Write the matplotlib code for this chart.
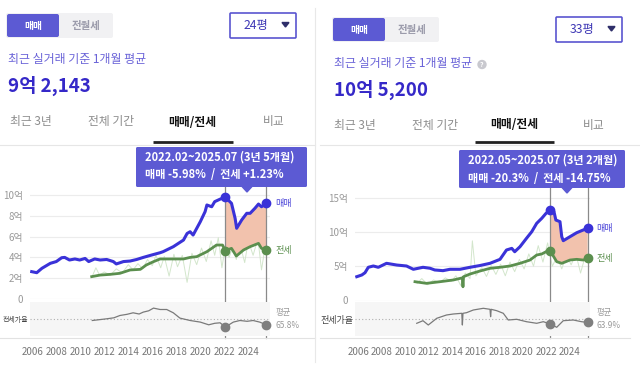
import matplotlib
matplotlib.use("Agg")
import matplotlib.pyplot as plt
from matplotlib.patches import FancyBboxPatch, Polygon, Circle
from matplotlib.transforms import blended_transform_factory
import numpy as np

plt.rcParams['font.family'] = ['Noto Sans CJK KR', 'DejaVu Sans']

W, H = 640, 365
fig = plt.figure(figsize=(6.4, 3.65), dpi=100)
fig.patch.set_facecolor('white')

# ---------------- data ----------------
# left panel (24평)
L_sale_x = [2005.95, 2006.37, 2006.8, 2007.5, 2008.0, 2008.45, 2008.7, 2009.1, 2009.55, 2009.95, 2010.4, 2010.7,
            2011.2, 2011.65, 2012.2, 2012.75, 2013.0, 2013.6, 2014.15, 2014.7, 2015.25, 2015.95, 2016.65, 2016.9,
            2017.75, 2018.6, 2018.9, 2019.15, 2019.4, 2020.0, 2020.4, 2020.55, 2020.95, 2021.2, 2021.65, 2022.083,
            2022.6, 2022.9, 2023.03, 2023.45, 2023.87, 2024.15, 2024.55, 2024.85, 2025.1, 2025.5]
L_sale_y = [2.63, 2.53, 2.95, 3.43, 3.6, 3.97, 4.0, 3.75, 3.85, 3.75, 3.9, 3.6,
            3.85, 3.75, 3.8, 3.6, 3.37, 3.6, 3.65, 3.8, 4.0, 4.23, 4.45, 4.55,
            5.03, 5.67, 6.3, 6.47, 6.15, 7.43, 8.4, 9.04, 8.87, 9.36, 9.6, 9.80,
            9.2, 7.76, 6.8, 7.6, 8.24, 8.24, 8.72, 9.13, 8.87, 9.21]
L_jeon_x = [2010.95, 2011.65, 2012.5, 2013.3, 2014.15, 2015.0, 2015.5, 2016.1, 2016.65, 2017.2, 2018.6, 2019.15,
            2019.7, 2020.55, 2021.35, 2021.85, 2022.083, 2022.6, 2023.0, 2023.6, 2024.15, 2024.85, 2025.1, 2025.5]
L_jeon_y = [2.15, 2.3, 2.37, 2.47, 2.79, 2.85, 3.27, 3.59, 3.85, 3.85, 3.85, 4.0,
            4.07, 4.55, 5.19, 5.19, 4.65, 4.87, 4.13, 4.71, 5.03, 5.35, 4.87, 4.71]
L_raw_x = [2011.0, 2011.3, 2011.6, 2012.0, 2012.5, 2013.0, 2013.5, 2014.0, 2014.4, 2014.8, 2015.2, 2015.6, 2016.0,
           2016.3, 2016.7, 2017.0, 2017.4, 2017.8, 2018.1, 2018.5, 2018.9, 2019.3, 2019.7, 2020.1, 2020.5, 2020.9,
           2021.2, 2021.5, 2021.8, 2022.1, 2022.4, 2022.7, 2023.0, 2023.3, 2023.7, 2024.0, 2024.4, 2024.8, 2025.1, 2025.4]
L_raw_y = [2.2, 3.0, 2.3, 2.6, 2.3, 2.9, 2.5, 3.3, 2.8, 3.4, 2.9, 3.8, 3.2,
           4.2, 3.0, 4.1, 2.2, 4.3, 3.1, 4.2, 1.6, 4.4, 3.3, 4.9, 3.6, 5.6,
           4.2, 5.9, 3.0, 5.2, 4.0, 5.0, 3.8, 5.3, 3.5, 5.6, 4.2, 5.8, 2.8, 5.0]
L_ratio_x = [2011.0, 2011.5, 2012.2, 2012.8, 2013.3, 2013.9, 2014.4, 2014.9, 2015.25, 2015.7, 2016.1, 2016.65, 2017.2,
             2017.75, 2018.3, 2019.15, 2020.0, 2020.7, 2021.2, 2021.65, 2022.083, 2022.75, 2023.3, 2023.9, 2024.4,
             2024.95, 2025.5]
L_ratio_y = [64.3, 65.0, 66.0, 67.0, 69.3, 70.5, 72.0, 70.8, 72.7, 74.0, 76.7, 75.3, 75.3,
             72.0, 66.7, 64.3, 62.7, 60.0, 61.5, 62.0, 57.7, 62.7, 64.3, 63.5, 64.3,
             62.7, 60.0]
L_mean = 65.8
L_period = (2022.083, 2025.5)

# right panel (33평)
R_sale_x = [2005.87, 2006.3, 2006.57, 2006.85, 2007.28, 2007.7, 2008.4, 2009.27, 2010.1, 2010.68, 2011.5, 2012.1,
            2012.5, 2013.2, 2013.8, 2014.65, 2015.5, 2016.35, 2017.2, 2018.05, 2018.6, 2019.05, 2019.3, 2019.75,
            2020.3, 2020.75, 2021.17, 2021.6, 2021.96, 2022.333, 2022.64, 2022.8, 2023.15, 2023.3, 2023.43, 2024.0,
            2024.57, 2025.13, 2025.5]
R_sale_y = [3.47, 3.72, 4.05, 4.84, 5.03, 4.84, 5.42, 5.17, 5.03, 4.55, 4.84, 4.7,
            4.45, 4.35, 4.55, 4.55, 4.84, 5.1, 5.42, 6.0, 7.36, 7.6, 7.11, 7.84,
            9.06, 10.03, 11.25, 11.98, 12.7, 13.2, 12.94, 11.73, 11.49, 9.3, 8.72, 9.3,
            9.88, 10.28, 10.52]
R_jeon_x = [2010.82, 2011.8, 2012.95, 2014.08, 2014.85, 2014.9, 2014.95, 2015.5, 2016.35, 2017.2, 2018.05, 2018.9,
            2019.75, 2020.6, 2021.17, 2021.6, 2021.96, 2022.333, 2022.87, 2023.3, 2024.0, 2024.57, 2025.13, 2025.5]
R_jeon_y = [2.74, 2.5, 2.74, 2.99, 3.3, 2.0, 3.47, 3.86, 4.3, 4.69, 4.84, 5.03,
            5.42, 5.9, 6.63, 6.78, 7.11, 7.2, 5.66, 5.42, 5.9, 6.0, 5.9, 6.14]
R_raw_x = [2011.0, 2011.4, 2011.9, 2012.4, 2012.9, 2013.4, 2013.9, 2014.3, 2014.7, 2015.1, 2015.5, 2015.7, 2016.0,
           2016.5, 2016.9, 2017.3, 2017.7, 2018.1, 2018.5, 2018.9, 2019.3, 2019.7, 2020.1, 2020.5, 2020.9, 2021.3,
           2021.7, 2022.1, 2022.5, 2022.9, 2023.3, 2023.7, 2024.1, 2024.5, 2024.9, 2025.3]
R_raw_y = [2.5, 3.2, 2.3, 3.0, 2.6, 3.3, 2.8, 3.6, 2.2, 4.0, 3.2, 8.7, 3.6,
           4.8, 3.5, 5.1, 3.8, 5.3, 3.6, 5.6, 4.2, 6.0, 4.6, 6.8, 5.0, 8.0,
           5.6, 8.4, 5.0, 6.4, 4.6, 6.6, 5.2, 6.8, 4.0, 6.5]
R_ratio_x = [2010.97, 2011.5, 2011.95, 2012.67, 2013.5, 2014.08, 2014.8, 2014.85, 2014.9, 2015.2, 2015.78, 2016.63,
             2017.2, 2017.25, 2017.3, 2017.77, 2018.33, 2018.75, 2019.47, 2020.3, 2021.17, 2021.73, 2022.333, 2022.87,
             2023.43, 2024.28, 2024.98, 2025.5]
R_ratio_y = [59.6, 62.2, 57.9, 64.6, 67.9, 68.9, 69.6, 57.9, 69.6, 70.2, 72.9, 74.6,
             73.6, 66.2, 73.6, 72.2, 69.6, 62.9, 63.6, 61.2, 59.6, 61.2, 58.9, 55.6,
             62.2, 62.9, 61.2, 60.5]
R_mean = 63.9
R_period = (2022.333, 2025.5)

year_ticks = list(range(2006, 2025, 2))
L_yticks = [0, 2, 4, 6, 8, 10]
L_ylabels = ['0', '2억', '4억', '6억', '8억', '10억']
R_yticks = [0, 5, 10, 15]
R_ylabels = ['0', '5억', '10억', '15억']

SALE_C = '#3a32d8'
JEON_C = '#5b8f4e'
RAW_C = '#d3e6cc'
FILL_C = '#f2c2ad'
RATIO_C = '#7a7a7a'
PURPLE = '#5c5ad3'


def add_px_axes(x0, y0, x1, y1):
    return fig.add_axes([x0 / W, 1 - y1 / H, (x1 - x0) / W, (y1 - y0) / H])


def chart(px_x0, px_x1, xlim, price_top_px, price_zero_px, ylim, yticks, ylabels,
          sx, sy, jx, jy, rx, ry, qx, qy, mean, period, mean_label, ratio_fs):
    ax = add_px_axes(px_x0, price_top_px, px_x1, price_zero_px)
    ax.set_xlim(*xlim)
    ax.set_ylim(*ylim)
    for s in ax.spines.values():
        s.set_visible(False)
    ax.set_yticks(yticks)
    ax.set_yticklabels(ylabels)
    ax.tick_params(axis='y', length=0, pad=5, labelsize=7, labelcolor='#9a9a9a')
    ax.set_xticks([])
    ax.grid(axis='y', color='#ececec', lw=0.8)
    ax.set_axisbelow(True)

    sx, sy, jx, jy = map(np.asarray, (sx, sy, jx, jy))
    ax.plot(rx, ry, color=RAW_C, lw=0.7, zorder=1)
    ms = (sx >= period[0]) & (sx <= period[1])
    mj = (jx >= period[0]) & (jx <= period[1])
    ax.fill(np.r_[sx[ms], jx[mj][::-1]], np.r_[sy[ms], jy[mj][::-1]], color=FILL_C, lw=0, zorder=2)
    ax.plot(jx, jy, color=JEON_C, lw=2.0, zorder=3, solid_joinstyle='round')
    ax.plot(sx, sy, color=SALE_C, lw=2.2, zorder=4, solid_joinstyle='round')

    tr = blended_transform_factory(ax.transData, fig.transFigure)
    for p in period:
        ax.plot([p, p], [1 - 338 / H, 1 - 187 / H], transform=tr, color='#8a8a8a', lw=0.9,
                clip_on=False, zorder=5)

    ax.plot([sx[ms][0], sx[ms][-1]], [sy[ms][0], sy[ms][-1]], 'o', color=SALE_C, ms=6, zorder=6, clip_on=False)
    ax.plot([jx[mj][0], jx[mj][-1]], [jy[mj][0], jy[mj][-1]], 'o', color=JEON_C, ms=6, zorder=6, clip_on=False)
    ax.annotate('매매', (sx[-1], sy[-1]), xytext=(9, 0), textcoords='offset pixels', va='center',
                ha='left', fontsize=6.5, color='#4a44d8')
    ax.annotate('전세', (jx[-1], jy[-1]), xytext=(9, 0), textcoords='offset pixels', va='center',
                ha='left', fontsize=6.5, color=JEON_C)

    ar = add_px_axes(px_x0, 302, px_x1, 336)
    ar.set_facecolor('#f6f6f6')
    for s in ar.spines.values():
        s.set_visible(False)
    ar.set_xlim(*xlim)
    ar.set_ylim(mean - 17, mean + 17)
    ar.axhline(mean, color='#b0b0b0', lw=0.8, ls=(0, (1, 2)))
    qx, qy = np.asarray(qx), np.asarray(qy)
    ar.plot(qx, qy, color=RATIO_C, lw=0.9)
    mq = (qx >= period[0]) & (qx <= period[1])
    ar.plot([qx[mq][0], qx[mq][-1]], [qy[mq][0], qy[mq][-1]], 'o', color='#7f7f7f', ms=6, clip_on=False, zorder=5)
    ar.set_yticks([mean])
    ar.set_yticklabels(['전세가율'])
    ar.tick_params(axis='y', length=0, pad=1, labelsize=ratio_fs, labelcolor='#444444')
    ar.set_xticks(year_ticks)
    ar.set_xticklabels([str(y) for y in year_ticks])
    ar.tick_params(axis='x', length=0, pad=8, labelsize=7, labelcolor='#777777')
    ar.annotate('평균', (qx[-1], mean), xytext=(9, 2), textcoords='offset pixels', va='bottom',
                ha='left', fontsize=6, color='#9a9a9a')
    ar.annotate(mean_label, (qx[-1], mean), xytext=(9, -2), textcoords='offset pixels', va='top',
                ha='left', fontsize=6, color='#9a9a9a')
    return ax


L_xlim = (2006 + (30 - 32.3) / 12, 2006 + (270 - 32.3) / 12)
chart(30, 270, L_xlim, 185, 299, (0, (299 - 185) / 10.4), L_yticks, L_ylabels,
      L_sale_x, L_sale_y, L_jeon_x, L_jeon_y, L_raw_x, L_raw_y, L_ratio_x, L_ratio_y,
      L_mean, L_period, '65.8%', 5.0)

R_xlim = (2006 + (355 - 358.3) / 11.76, 2006 + (590 - 358.3) / 11.76)
chart(355, 590, R_xlim, 185, 300.5, (0, (300.5 - 185) / 6.86), R_yticks, R_ylabels,
      R_sale_x, R_sale_y, R_jeon_x, R_jeon_y, R_raw_x, R_raw_y, R_ratio_x, R_ratio_y,
      R_mean, R_period, '63.9%', 6.5)

# ---------------- UI overlay ----------------
ui = fig.add_axes([0, 0, 1, 1])
ui.set_xlim(0, W)
ui.set_ylim(H, 0)
ui.axis('off')
ui.patch.set_alpha(0)
ui.set_zorder(10)


def rbox(x, y, w, h, fc, ec='none', lw=0, r=2):
    ui.add_patch(FancyBboxPatch((x, y), w, h, boxstyle=f'round,pad=0,rounding_size={r}',
                                fc=fc, ec=ec, lw=lw))


def panel(dx, dy, size_label, big_value, tab_y, tab_centers, underline, help_icon):
    rbox(6 + dx, 13 + dy, 107, 25, '#f1f1f3')
    rbox(7 + dx, 14 + dy, 52, 23, PURPLE)
    ui.text(33 + dx, 25.5 + dy, '매매', color='white', fontsize=7, weight='bold', ha='center', va='center')
    ui.text(86 + dx, 25.5 + dy, '전월세', color='#9b9bab', fontsize=7.5, weight='bold', ha='center', va='center')
    rbox(230 + dx, 13 + dy, 66, 25, 'white', ec='#5a55d0', lw=1.2, r=1)
    ui.text(256 + dx, 26 + dy, size_label, color='#3d37b5', fontsize=8.8, ha='center', va='center')
    ui.add_patch(Polygon([(282 + dx, 22.5 + dy), (289 + dx, 22.5 + dy), (285.5 + dx, 27 + dy)],
                         closed=True, color='#2f2f6a'))
    ui.text(8 + dx, 60 + dy, '최근 실거래 기준 1개월 평균', color='#6a63d8', fontsize=8.6, ha='left', va='center')
    if help_icon:
        ui.add_patch(Circle((help_icon + dx, 60.5 + dy), 4, color='#c9c9cf'))
        ui.text(help_icon + dx, 60.5 + dy, '?', color='white', fontsize=5, ha='center', va='center', weight='bold')
    ui.text(8 + dx, 86 + dy, big_value, color='#3528c8', fontsize=13.5, weight='bold', ha='left', va='center')
    tabs = ['최근 3년', '전체 기간', '매매/전세', '비교']
    for t, c in zip(tabs, tab_centers):
        sel = t == '매매/전세'
        ui.text(c + dx, tab_y, t, color='#111111' if sel else '#8c8c8c', fontsize=8.5,
                weight='bold' if sel else 'normal', ha='center', va='center')
    ui.plot([underline[0], underline[1]], [142, 142], color='#222222', lw=2, solid_capstyle='butt')


panel(0, 0, '24평', '9억 2,143', 122, [31, 111, 192, 274], (153, 233), None)
panel(326, 4, '33평', '10억 5,200', 125, [29, 109, 188.5, 268], (475, 554), 156)

ui.plot([0, 315], [144.5, 144.5], color='#e6e6e6', lw=0.8)
ui.plot([320, 640], [144.5, 144.5], color='#e6e6e6', lw=0.8)
ui.plot([0, 315], [338, 338], color='#e2e2e2', lw=0.8)
ui.plot([320, 630], [338, 338], color='#e2e2e2', lw=0.8)
ui.plot([315, 315], [8, 362], color='#e8e8e8', lw=0.8)


def tooltip(x, y, w, h, tip_x, line1, line2):
    rbox(x, y, w, h, PURPLE, r=1.5)
    ui.add_patch(Polygon([(tip_x - 5, y + h - 0.5), (tip_x + 5, y + h - 0.5), (tip_x, y + h + 5)],
                         closed=True, color=PURPLE))
    ui.text(x + 9, y + 10.5, line1, color='white', fontsize=8, weight='bold', ha='left', va='center')
    ui.text(x + 9, y + 28, line2, color='white', fontsize=8, weight='bold', ha='left', va='center')


tooltip(136, 147, 171, 40, 247, '2022.02~2025.07 (3년 5개월)', '매매 -5.98%  /  전세 +1.23%')
tooltip(459, 150, 166, 38, 567, '2022.05~2025.07 (3년 2개월)', '매매 -20.3%  /  전세 -14.75%')

fig.savefig('out.png', dpi=100, facecolor='white')
